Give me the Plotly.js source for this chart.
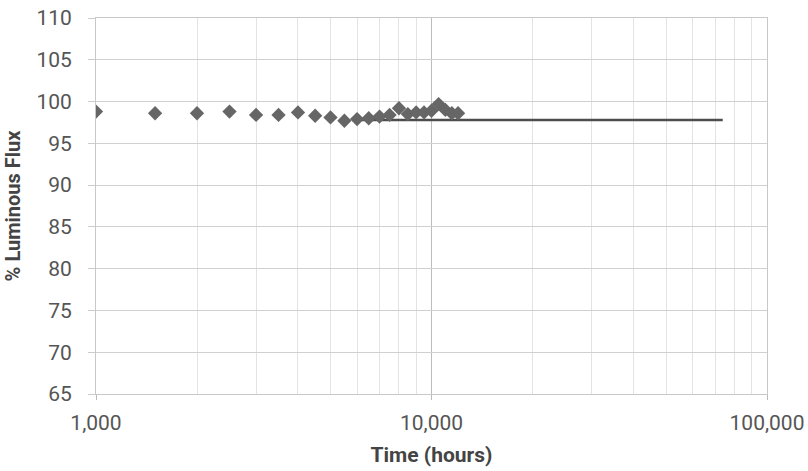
<!DOCTYPE html>
<html>
<head>
<meta charset="utf-8">
<script src="https://cdn.plot.ly/plotly-3.0.1.min.js"></script>
<style>html,body{margin:0;padding:0;background:#fff;}#chart{width:808px;height:471px;}</style>
</head>
<body>
<div id="chart"></div>
<script>
// Measured data (hours, % luminous flux)
const timeHours = [1000, 1500, 2000, 2500, 3000, 3500, 4000, 4500, 5000, 5500, 6000, 6500, 7000, 7500, 8000, 8500, 9000, 9500, 10000, 10500, 11000, 11500, 12000];
const fluxPct   = [98.8, 98.6, 98.6, 98.8, 98.4, 98.4, 98.7, 98.3, 98.1, 97.7, 97.9, 98.0, 98.2, 98.4, 99.2, 98.5, 98.7, 98.7, 98.9, 99.7, 99.0, 98.6, 98.6];
// Projection line
const projHours = [5800, 73800];
const projFlux  = [97.8, 97.8];
// Ticks
const xTickVals = [1000, 10000, 100000];
const xTickText = ['1,000', '10,000', '100,000'];
const xMinorVals = [2000,3000,4000,5000,6000,7000,8000,9000,20000,30000,40000,50000,60000,70000,80000,90000];

const traces = [
  {x: projHours, y: projFlux, type: 'scatter', mode: 'lines',
   line: {color: '#4d4d4d', width: 2.5}, hoverinfo: 'skip', showlegend: false},
  {x: timeHours, y: fluxPct, type: 'scatter', mode: 'markers',
   marker: {symbol: 'diamond', size: 11, color: '#666666'}, showlegend: false}
];

const layout = {
  width: 808, height: 471,
  margin: {l: 96, r: 41, t: 18, b: 77},
  paper_bgcolor: '#ffffff', plot_bgcolor: '#ffffff',
  font: {family: 'Roboto, Arial, sans-serif', color: '#555'},
  showlegend: false,
  xaxis: {
    type: 'log', range: [3, 5],
    tickmode: 'array', tickvals: xTickVals, ticktext: xTickText,
    tickfont: {size: 21, color: '#555'},
    ticks: 'outside', ticklen: 5, tickcolor: '#bbb',
    ticklabelstandoff: 5,
    showgrid: true, gridcolor: '#bdbdbd', gridwidth: 1,
    minor: {tickmode: 'array', tickvals: xMinorVals, showgrid: true, gridcolor: '#e3e3e3', gridwidth: 1, ticks: ''},
    showline: true, linecolor: '#c8c8c8', mirror: true,
    zeroline: false,
    title: {text: '<b>Time (hours)</b>', font: {size: 21, color: '#444'}, standoff: 13}
  },
  yaxis: {
    range: [65, 110], dtick: 5, tick0: 65,
    tickfont: {size: 21, color: '#555'},
    ticks: 'outside', ticklen: 7, tickcolor: '#ccc',
    ticklabelstandoff: 12,
    showgrid: true, gridcolor: '#d0d0d0', gridwidth: 1,
    showline: true, linecolor: '#c8c8c8', mirror: true,
    zeroline: false,
    title: {text: '<b>% Luminous Flux</b>', font: {size: 20, color: '#444'}, standoff: 10}
  }
};

Plotly.newPlot('chart', traces, layout, {displayModeBar: false, staticPlot: true});
</script>
</body>
</html>
